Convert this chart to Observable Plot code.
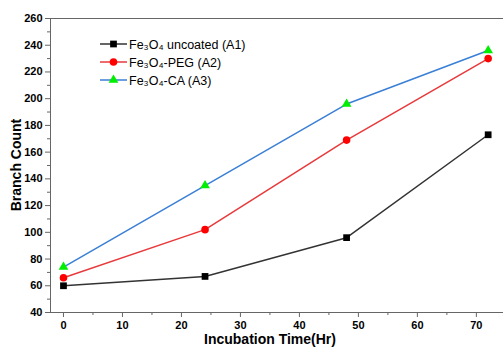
<!DOCTYPE html>
<html><head><meta charset="utf-8">
<script src="https://cdn.jsdelivr.net/npm/d3@7"></script>
<script src="https://cdn.jsdelivr.net/npm/@observablehq/plot@0.6"></script>
<style>
body{margin:0;background:#fff;font-family:Arial,"Liberation Sans",sans-serif;}
</style></head>
<body><div id="chart"></div>
<script>
const hours = [0, 24, 48, 72];
const seriesNames = ["Fe₃O₄ uncoated (A1)", "Fe₃O₄-PEG (A2)", "Fe₃O₄-CA (A3)"];
const a1 = [60, 67, 96, 173];
const a2 = [66, 102, 169, 230];
const a3 = [74, 135, 196, 236];
const xTicks = [0, 10, 20, 30, 40, 50, 60, 70];
const yTicks = [40, 60, 80, 100, 120, 140, 160, 180, 200, 220, 240, 260];
const lineColors = ["#333333", "#e8393b", "#3a7fd6"];
const markColors = ["#000000", "#ff0000", "#00ee00"];
const symbols = ["square", "circle", "triangle"];
const radii = [3.8, 3.8, 3.6];

const values = [a1, a2, a3];
const data = [];
values.forEach((vals, s) => vals.forEach((v, i) => data.push({series: s, x: hours[i], y: v})));

const xMinor = d3.range(5, 75, 10);
const yMinor = d3.range(50, 260, 20);

const marks = [
  Plot.ruleY([260], {stroke: "#666", strokeWidth: 1}),
  Plot.axisX({ticks: xMinor, tickSize: 3, text: null, stroke: "#666", label: null}),
  Plot.axisY({ticks: yMinor, tickSize: 3, text: null, stroke: "#666", label: null}),
  Plot.axisX({ticks: xTicks, tickSize: 5, tickPadding: 4, stroke: "#666", fill: "#000", fontWeight: "bold", fontSize: 11, label: null}),
  Plot.axisY({ticks: yTicks, tickSize: 5, tickPadding: 3, stroke: "#666", fill: "#000", fontWeight: "bold", fontSize: 11, label: null}),
  Plot.ruleY([40], {stroke: "#666", strokeWidth: 1}),
  Plot.ruleX([-2.2], {stroke: "#666", strokeWidth: 1})
];
[0, 1, 2].forEach(s => {
  const d = data.filter(r => r.series === s);
  marks.push(Plot.line(d, {x: "x", y: "y", stroke: lineColors[s], strokeWidth: 1.5}));
});
[0, 1, 2].forEach(s => {
  const d = data.filter(r => r.series === s);
  marks.push(Plot.dot(d, {x: "x", y: "y", symbol: () => symbols[s], r: radii[s], fill: markColors[s], stroke: "none"}));
});

const chart = Plot.plot({
  width: 503, height: 350,
  marginLeft: 50, marginRight: 0, marginTop: 18, marginBottom: 38,
  x: {domain: [-2.2, 74.6]},
  y: {domain: [40, 260]},
  symbol: {type: "identity"},
  style: {fontFamily: "Arial, 'Liberation Sans', sans-serif", background: "#fff"},
  marks
});

const svg = d3.select(chart);
// axis titles
svg.append("text").attr("x", 270).attr("y", 344).attr("text-anchor", "middle")
  .attr("font-weight", "bold").attr("font-size", 14).attr("fill", "#000").text("Incubation Time(Hr)");
svg.append("text").attr("transform", "translate(21,165) rotate(-90)").attr("text-anchor", "middle")
  .attr("font-weight", "bold").attr("font-size", 14).attr("fill", "#000").text("Branch Count");
// legend
const legendY = [44, 62, 80];
const sym = [d3.symbolSquare, d3.symbolCircle, d3.symbolTriangle];
seriesNames.forEach((name, s) => {
  const g = svg.append("g").attr("transform", `translate(0,${legendY[s]})`);
  g.append("line").attr("x1", 100).attr("x2", 127).attr("y1", 0).attr("y2", 0)
    .attr("stroke", lineColors[s]).attr("stroke-width", 1.5);
  g.append("path").attr("transform", "translate(113.5,0)")
    .attr("d", d3.symbol(sym[s], Math.PI * radii[s] * radii[s])())
    .attr("fill", markColors[s]);
  g.append("text").attr("x", 129).attr("y", 4.5).attr("text-anchor", "start")
    .attr("font-size", 12.5).attr("fill", "#000").text(name);
});

document.getElementById("chart").appendChild(chart);
</script></body></html>
